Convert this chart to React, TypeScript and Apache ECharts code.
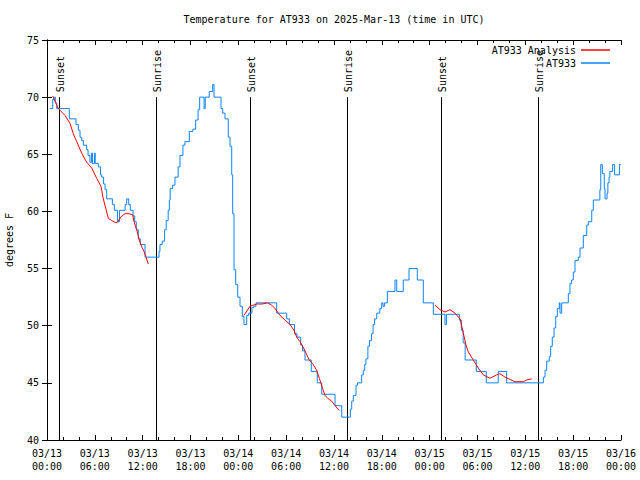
import React, { useEffect, useRef } from "react";
import * as echarts from "echarts";

const FONT = '"DejaVu Sans Mono", monospace';

// x values: hours since 2025-03-13 00:00 UTC
const xTickLabels = [
  "03/13\n00:00", "03/13\n06:00", "03/13\n12:00", "03/13\n18:00",
  "03/14\n00:00", "03/14\n06:00", "03/14\n12:00", "03/14\n18:00",
  "03/15\n00:00", "03/15\n06:00", "03/15\n12:00", "03/15\n18:00",
  "03/16\n00:00",
];

const markerHours = [1.45, 13.7, 25.45, 37.67, 49.45, 61.63];
const markerLabels = ["Sunset", "Sunrise", "Sunset", "Sunrise", "Sunset", "Sunrise"];

// AT933 observations (change points: hour, °F)
const blueHours = [
  0.38, 0.72, 0.88, 1.04, 1.22, 2.8, 3.64, 3.93, 4.14, 4.35, 4.56, 4.98, 5.15, 5.39, 5.6, 5.7, 5.95, 6.05,
  6.44, 6.7, 6.86, 7.1, 7.28, 7.49, 8.2, 8.45, 8.85, 9.1, 9.8, 10.0, 10.25, 10.45, 10.8, 11.0, 11.2, 11.45,
  11.7, 12.3, 14.05, 14.17, 14.45, 14.75, 14.95, 15.2, 15.35, 15.45, 15.75, 16.05, 16.45, 16.68, 17.05, 17.3,
  17.85, 18.3, 18.65, 18.95, 19.15, 19.7, 19.85, 20.35, 20.78, 20.95, 21.83, 22.04, 22.33, 22.74, 22.96, 23.17,
  23.29, 23.46, 23.67, 23.92, 24.21, 24.5, 24.71, 25.05, 25.3, 25.7, 25.95, 26.22, 28.81, 30.07, 30.4, 31.05,
  31.36, 31.82, 32.05, 32.36, 33.15, 33.9, 34.46, 36.13, 36.97, 38.05, 38.22, 38.42, 38.76, 38.95, 39.47, 39.68,
  39.85, 40.0, 40.25, 40.45, 40.7, 40.9, 41.1, 41.36, 41.75, 41.98, 42.15, 42.35, 42.69, 43.65, 43.87, 44.69,
  45.41, 46.45, 47.2, 48.46, 49.92, 50.1, 51.72, 51.97, 52.2, 52.45, 53.85, 55.1, 56.6, 57.65, 62.26, 62.47,
  62.68, 63.0, 63.18, 63.38, 63.6, 63.81, 64.01, 64.26, 64.35, 64.56, 65.39, 65.6, 65.8, 66.02, 66.23, 66.65,
  66.86, 67.27, 67.7, 67.9, 68.33, 68.53, 69.35, 69.46, 69.66, 69.9, 70.0, 70.25, 70.35, 70.5, 70.6, 70.95,
  71.2, 71.8, 72.0,
];
const blueTemps = [
  69.0, 69.8, 70.0, 69.5, 69.0, 68.1, 67.6, 67.1, 66.5, 66.2, 65.8, 65.4, 64.9, 64.3, 65.1, 64.2, 65.1, 64.2,
  63.9, 63.2, 63.0, 62.4, 61.9, 61.1, 60.6, 60.1, 59.1, 60.1, 60.6, 61.1, 60.6, 60.1, 59.6, 59.1, 58.4, 57.6,
  57.1, 56.0, 56.5, 57.1, 57.4, 58.4, 59.2, 60.1, 61.0, 62.0, 62.3, 63.0, 63.9, 64.9, 65.8, 66.1,
  67.0, 67.2, 68.0, 68.9, 70.0, 69.0, 70.0, 70.5, 71.1, 70.0, 69.0, 68.6, 68.1, 66.5, 65.7, 63.2,
  59.8, 54.9, 53.6, 52.5, 51.7, 50.8, 50.1, 50.9, 51.1, 51.6, 51.7, 52.0, 51.1, 50.6, 50.1, 49.3,
  49.0, 48.3, 47.8, 47.0, 46.0, 45.0, 44.0, 43.0, 42.0, 42.7, 43.4, 43.9, 44.8, 45.0, 45.7, 46.1,
  46.6, 47.1, 48.2, 48.7, 49.3, 50.1, 50.6, 51.1, 51.5, 52.0, 51.7, 52.0, 53.0, 54.0, 53.0, 54.0,
  55.0, 54.0, 52.0, 51.0, 50.1, 51.0, 50.5, 49.6, 48.5, 47.0, 46.0, 45.0, 46.0, 45.0, 45.5, 46.1,
  46.9, 47.3, 48.2, 49.0, 49.8, 50.8, 51.5, 52.0, 51.1, 52.0, 52.8, 53.7, 54.0, 54.7, 55.7, 56.0,
  56.8, 57.9, 58.8, 59.1, 60.1, 61.0, 61.9, 64.1, 63.3, 62.0, 61.1, 61.6, 62.5, 63.0, 63.5, 64.1,
  63.2, 64.1, 64.1,
];

// AT933 Analysis (three night-time segments)
const red1Hours = [0.72, 1.42, 2.26, 2.89, 3.3, 3.73, 4.35, 4.98, 5.61, 6.23, 6.77, 7.06, 7.36, 7.69, 8.12, 8.66, 8.9, 9.24, 9.78, 10.29, 10.75, 10.91, 11.25, 11.58, 11.88, 12.17, 12.42, 12.71];
const red1Temps = [70.1, 69.0, 68.4, 67.7, 66.8, 66.1, 65.1, 64.3, 63.8, 62.9, 62.2, 61.1, 60.3, 59.4, 59.2, 59.0, 59.1, 59.5, 59.8, 59.8, 59.7, 59.1, 58.4, 57.5, 56.9, 56.5, 56.0, 55.4];
const red2Hours = [24.71, 25.46, 26.3, 26.97, 27.68, 28.19, 28.6, 29.23, 29.85, 30.48, 30.98, 31.32, 31.74, 32.07, 32.49, 32.9, 33.4, 33.83, 34.16, 34.58, 34.87, 35.29, 35.71, 36.25, 36.67];
const red2Temps = [50.9, 51.7, 51.9, 51.9, 52.0, 51.8, 51.5, 50.9, 50.5, 50.1, 49.6, 49.0, 48.6, 48.2, 47.6, 47.0, 46.6, 46.1, 45.4, 44.5, 43.9, 43.6, 43.4, 42.9, 42.6];
const red3Hours = [48.67, 49.3, 49.92, 50.55, 51.18, 51.81, 52.14, 52.56, 52.85, 53.47, 54.1, 54.73, 55.57, 56.41, 56.82, 57.45, 58.08, 58.7, 59.75, 60.17, 60.8];
const red3Temps = [51.8, 51.4, 51.2, 51.4, 51.1, 50.6, 49.6, 48.3, 47.7, 47.0, 46.3, 45.7, 45.4, 45.7, 45.8, 45.5, 45.3, 45.1, 45.1, 45.25, 45.35];

const zip = (a: number[], b: number[]) => a.map((v, i) => [v, b[i]]);

const RED = "#ff0000";
const BLUE = "#0a84ff";

export default function App() {
  const ref = useRef<HTMLDivElement>(null);
  useEffect(() => {
    if (!ref.current) return;
    const chart = echarts.init(ref.current, undefined, { renderer: "svg" });
    const xCommon = {
      type: "value" as const,
      min: 0,
      max: 72,
      interval: 6,
      axisLine: { lineStyle: { color: "#000", width: 1 } },
      axisTick: { inside: true, length: 5, lineStyle: { color: "#000" } },
      minorTick: { show: true, splitNumber: 3, length: 3, lineStyle: { color: "#000" } },
      splitLine: { show: false },
      minorSplitLine: { show: false },
    };
    const yCommon = {
      type: "value" as const,
      min: 40,
      max: 75,
      interval: 5,
      axisLine: { show: true, lineStyle: { color: "#000", width: 1 } },
      axisTick: { show: true, inside: true, length: 5, lineStyle: { color: "#000" } },
      splitLine: { show: false },
    };
    const redSeries = [red1Hours, red2Hours, red3Hours].map((hs, k) => ({
      name: "AT933 Analysis",
      type: "line",
      data: zip(hs, [red1Temps, red2Temps, red3Temps][k]),
      showSymbol: false,
      lineStyle: { color: RED, width: 1 },
      itemStyle: { color: RED },
      z: 4,
    }));
    chart.setOption({
      animation: false,
      grid: { left: 47, right: 19, top: 40, bottom: 40, containLabel: false, outerBoundsMode: "none" },
      graphic: [
        {
          type: "text",
          x: 334,
          y: 19,
          style: {
            text: "Temperature for AT933 on 2025-Mar-13 (time in UTC)",
            font: `10px ${FONT}`,
            fill: "#000",
            align: "center",
            verticalAlign: "middle",
          },
        },
      ],
      legend: {
        data: ["AT933 Analysis", "AT933"],
        orient: "vertical",
        right: 25,
        top: 39,
        align: "right",
        icon: "rect",
        itemWidth: 29,
        itemHeight: 1.5,
        itemGap: 1,
        textStyle: { fontFamily: FONT, fontSize: 10, color: "#000", lineHeight: 12 },
      },
      xAxis: [
        {
          ...xCommon,
          position: "bottom",
          axisLabel: {
            fontFamily: FONT,
            fontSize: 10,
            color: "#000",
            lineHeight: 13,
            margin: 7,
            showMaxLabel: true,
            showMinLabel: true,
            formatter: (v: number) => xTickLabels[Math.round(v / 6)] ?? "",
          },
        },
        { ...xCommon, position: "top", axisLabel: { show: false } },
      ],
      yAxis: [
        {
          ...yCommon,
          position: "left",
          name: "degrees F",
          nameLocation: "middle",
          nameRotate: 90,
          nameGap: 33,
          nameTextStyle: { fontFamily: FONT, fontSize: 10, color: "#000" },
          axisLabel: { fontFamily: FONT, fontSize: 10, color: "#000", margin: 8 },
        },
        { ...yCommon, position: "right", axisLabel: { show: false } },
      ],
      series: [
        {
          type: "custom",
          name: "markers",
          data: markerHours.map((h) => [h, 70]),
          encode: { x: 0, y: 1 },
          z: 1,
          silent: true,
          renderItem: (params: any, api: any) => {
            const h = api.value(0);
            const top = api.coord([h, 70]);
            const bot = api.coord([h, 40]);
            const x = Math.round(top[0]) + 0.5;
            return {
              type: "group",
              children: [
                {
                  type: "line",
                  shape: { x1: x, y1: top[1], x2: x, y2: bot[1] },
                  style: { stroke: "#000", lineWidth: 1 },
                },
                {
                  type: "text",
                  x: x + 1,
                  y: top[1] - 5,
                  rotation: Math.PI / 2,
                  style: {
                    text: markerLabels[params.dataIndex],
                    font: `10px ${FONT}`,
                    fill: "#000",
                    align: "left",
                    verticalAlign: "middle",
                  },
                },
              ],
            };
          },
        },
        {
          name: "AT933",
          type: "line",
          step: "end",
          data: zip(blueHours, blueTemps),
          showSymbol: false,
          lineStyle: { color: BLUE, width: 1 },
          itemStyle: { color: BLUE },
          z: 3,
        },
        ...redSeries,
      ],
    });
    return () => chart.dispose();
  }, []);
  return (
    <div
      ref={ref}
      style={{ position: "absolute", left: 0, top: 0, width: 640, height: 480 }}
    />
  );
}
